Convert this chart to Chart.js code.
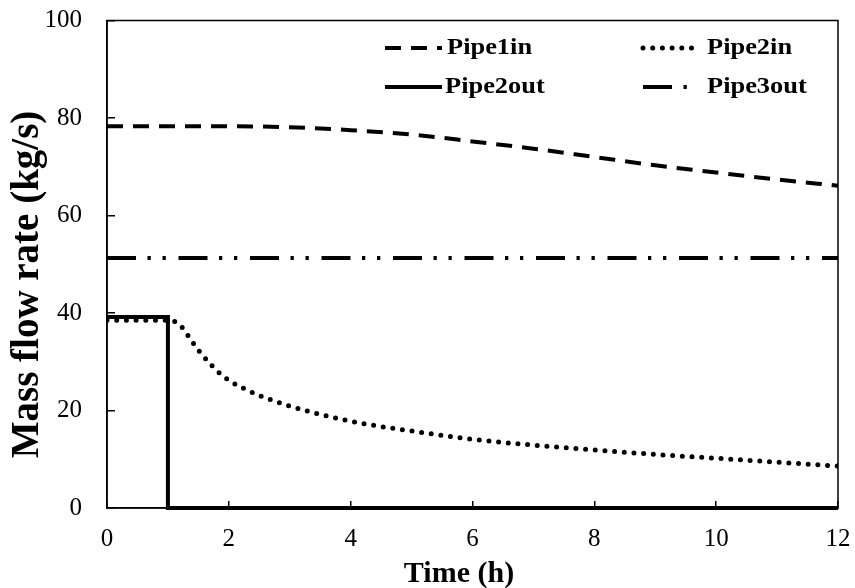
<!DOCTYPE html>
<html>
<head>
<meta charset="utf-8">
<script src="https://cdn.jsdelivr.net/npm/chart.js@4.4.1/dist/chart.umd.min.js"></script>
<style>
  html, body { margin: 0; padding: 0; background: #fff; }
  #wrap { width: 855px; height: 588px; position: relative; }
</style>
</head>
<body>
<div id="wrap"><canvas id="chart"></canvas></div>
<script>
/* ---------------- DATA ---------------- */
const X_TICKS = [0, 2, 4, 6, 8, 10, 12];          // Time (h)
const Y_TICKS = [0, 20, 40, 60, 80, 100];         // Mass flow rate (kg/s)

const pipe1inTime = [0, 1, 2, 3, 4, 5, 6, 7, 8, 9, 10, 11, 12];
const pipe1inFlow = [78.3, 78.3, 78.3, 78.1, 77.5, 76.6, 75.2, 73.7, 72.0, 70.3, 68.8, 67.4, 66.1];

const pipe2inTime = [0, 1, 1.1, 1.2, 1.3, 1.4, 1.5, 1.6, 1.7, 1.8, 2, 2.2, 2.5, 3, 3.5, 4, 4.5, 5, 6, 7, 8, 9, 10, 11, 12];
const pipe2inFlow = [38.5, 38.5, 38.3, 37.5, 35.9, 34.1, 32.4, 30.9, 29.5, 28.2, 26.2, 24.8, 23.1, 20.9, 19.2, 17.8, 16.7, 15.8, 14.1, 12.9, 11.9, 11.0, 10.2, 9.4, 8.6];

const pipe2outTime = [0, 1, 1, 12];
const pipe2outFlow = [39.2, 39.2, 0, 0];

const pipe3outTime = [0, 12];
const pipe3outFlow = [51.3, 51.3];
/* -------------------------------------- */

const SERIF = "'Liberation Serif', 'Times New Roman', serif";

function toPoints(xs, ys){
    return xs.map((x, i) => ({x: x, y: ys[i]}));
}

/* legend slots: sample line start/length, text start */
const LEGEND_SLOTS = [
    {x: 385, y: 48, len: 57, tx: 447},   // Pipe1in
    {x: 643, y: 48, len: 52, tx: 707},   // Pipe2in
    {x: 385, y: 87, len: 57, tx: 445},   // Pipe2out
    {x: 643, y: 87, len: 44, tx: 707}    // Pipe3out
];

/* frame, axis titles and the in-plot legend */
const decorations = {
    id: 'decorations',
    afterDatasetsDraw(chart){
        const {ctx, chartArea: a} = chart;
        ctx.save();
        ctx.strokeStyle = '#000';
        ctx.lineWidth = 1.5;
        ctx.strokeRect(a.left, a.top, a.right - a.left, a.bottom - a.top);
        ctx.restore();
    },
    afterDraw(chart){
        const ctx = chart.ctx;
        ctx.save();
        ctx.fillStyle = '#000';

        // y title
        ctx.save();
        ctx.font = "bold 39px " + SERIF;
        ctx.translate(38, 284.5);
        ctx.rotate(-Math.PI / 2);
        ctx.textAlign = 'center';
        ctx.textBaseline = 'alphabetic';
        ctx.fillText('Mass flow rate (kg/s)', 0, 0);
        ctx.restore();

        // x title
        ctx.font = "bold 30px " + SERIF;
        ctx.textAlign = 'center';
        ctx.textBaseline = 'alphabetic';
        ctx.fillText('Time (h)', 459, 581.5);

        // legend
        chart.data.datasets.forEach((ds, i) => {
            const s = LEGEND_SLOTS[i];
            ctx.save();
            ctx.strokeStyle = ds.borderColor;
            ctx.lineWidth = ds.borderWidth;
            ctx.lineCap = ds.borderCapStyle || 'butt';
            ctx.setLineDash(ds.borderDash || []);
            ctx.beginPath();
            ctx.moveTo(s.x, s.y);
            ctx.lineTo(s.x + s.len, s.y);
            ctx.stroke();
            ctx.restore();

            ctx.save();
            ctx.font = "bold 24px " + SERIF;
            ctx.textAlign = 'left';
            ctx.textBaseline = 'alphabetic';
            ctx.translate(s.tx, s.y + 5.5);
            ctx.scale(1.1, 1);
            ctx.fillText(ds.label, 0, 0);
            ctx.restore();
        });
        ctx.restore();
    }
};

const ctx = document.getElementById('chart').getContext('2d');
new Chart(ctx, {
    type: 'line',
    data: {
        datasets: [
            {
                label: 'Pipe1in',
                data: toPoints(pipe1inTime, pipe1inFlow),
                borderColor: '#000',
                borderWidth: 4,
                borderDash: [16, 10],
                cubicInterpolationMode: 'monotone'
            },
            {
                label: 'Pipe2in',
                data: toPoints(pipe2inTime, pipe2inFlow),
                borderColor: '#000',
                borderWidth: 5,
                borderDash: [0, 9.7],
                borderCapStyle: 'round',
                cubicInterpolationMode: 'monotone'
            },
            {
                label: 'Pipe2out',
                data: toPoints(pipe2outTime, pipe2outFlow),
                borderColor: '#000',
                borderWidth: 4,
                borderDash: [],
                clip: false
            },
            {
                label: 'Pipe3out',
                data: toPoints(pipe3outTime, pipe3outFlow),
                borderColor: '#000',
                borderWidth: 4,
                borderDash: [29, 11.5, 3.3, 11.7, 3.3, 12.7]
            }
        ]
    },
    options: {
        responsive: true,
        maintainAspectRatio: false,
        animation: false,
        elements: { point: { radius: 0, hoverRadius: 0 }, line: { fill: false } },
        layout: { padding: { left: 0, top: 20.5, right: 17, bottom: 0 } },
        plugins: { legend: { display: false }, tooltip: { enabled: false } },
        scales: {
            x: {
                type: 'linear',
                min: 0, max: 12,
                afterFit: s => {
                    s.height = 80;
                    s.paddingLeft = 0; s.paddingRight = 0;
                },
                afterBuildTicks: s => { s.ticks = X_TICKS.map(v => ({value: v})); },
                grid: { drawOnChartArea: false, drawTicks: true, tickLength: -7, color: '#000', lineWidth: 1.5 },
                border: { display: true, color: '#000', width: 1.5 },
                ticks: { color: '#000', padding: 23, maxRotation: 0, font: { family: SERIF, size: 25 } }
            },
            y: {
                type: 'linear',
                min: 0, max: 100,
                afterFit: s => {
                    s.width = 107;
                    s.paddingTop = 0; s.paddingBottom = 0;
                },
                afterBuildTicks: s => { s.ticks = Y_TICKS.map(v => ({value: v})); },
                grid: { drawOnChartArea: false, drawTicks: true, tickLength: -8, color: '#000', lineWidth: 1.5 },
                border: { display: true, color: '#000', width: 1.5 },
                ticks: { color: '#000', padding: 33, font: { family: SERIF, size: 25 } }
            }
        }
    },
    plugins: [decorations]
});
</script>
</body>
</html>
